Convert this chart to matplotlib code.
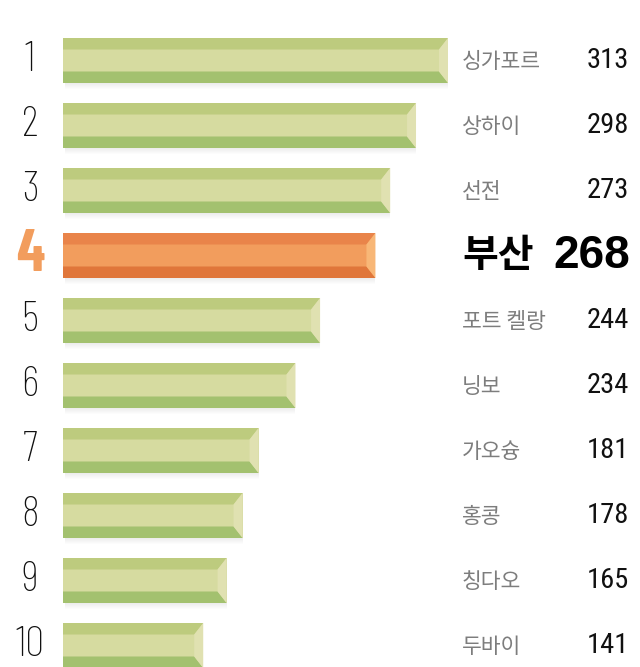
import matplotlib.pyplot as plt
from matplotlib.patches import Polygon, Rectangle

ranks = [1, 2, 3, 4, 5, 6, 7, 8, 9, 10]
cities = ['싱가포르', '상하이', '선전', '부산', '포트 켈랑', '닝보', '가오슝', '홍콩', '칭다오', '두바이']
values = [313, 298, 273, 268, 244, 234, 181, 178, 165, 141]
# drawn bar lengths (not exactly proportional to values)
bar_len = [313, 287, 266, 254, 209, 189, 159, 146, 133, 114]
highlight = 3

green = {'top': '#BDCB7E', 'mid': '#D6DBA0', 'bot': '#A3C16F', 'end': '#E0E1B1'}
orange = {'top': '#E9844A', 'mid': '#F29D5D', 'bot': '#E0763A', 'end': '#F8B777'}

W, H = 640, 667
px = 385 / 313          # pixels per value unit
x0_px = 63              # left edge of bars
row_px = 65             # distance between bars
y1_px = 60.5            # centre of first bar

fig = plt.figure(figsize=(W / 100, H / 100), dpi=100)
ax = fig.add_axes([0, 0, 1, 1])
ax.set_xlim(-x0_px / px, (W - x0_px) / px)
ax.set_ylim(1 + (H - y1_px) / row_px, 1 - y1_px / row_px)
ax.axis('off')

bh = 45 / row_px         # bar height in rank units
dv = 11.5 / row_px       # bevel depth, vertical
dh = 9 / px              # bevel depth, horizontal


def draw_bar(r, length, c):
    top, bot = r - bh / 2, r + bh / 2
    # soft shadow
    for k in range(6):
        ax.add_patch(Rectangle((2 / px, bot + k / row_px), length - 2 / px, 1 / row_px,
                               color='#000000', alpha=0.07 * (1 - k / 6), lw=0))
    ax.add_patch(Rectangle((0, top), length, bh, color=c['mid'], lw=0))
    ax.add_patch(Polygon([(0, top), (length, top), (length - dh, top + dv), (0, top + dv)],
                         color=c['top'], lw=0))
    ax.add_patch(Polygon([(0, bot), (length, bot), (length - dh, bot - dv), (0, bot - dv)],
                         color=c['bot'], lw=0))
    ax.add_patch(Polygon([(length, top), (length, bot), (length - dh, bot - dv),
                          (length - dh, top + dv)], color=c['end'], lw=0))


rank_font = ['Barlow Condensed', 'DejaVu Sans']
val_font = ['Roboto Condensed', 'Barlow Semi Condensed', 'DejaVu Sans']
big_font = ['Liberation Sans', 'DejaVu Sans']
kr_font = ['Noto Sans CJK KR', 'DejaVu Sans']
x_rank = -33 / px
x_city = (462 - x0_px) / px
x_val = (629 - x0_px) / px

for i, r in enumerate(ranks):
    if i == highlight:
        draw_bar(r, bar_len[i], orange)
        ax.text(x_rank, r, str(r), ha='center', va='center', fontsize=42,
                fontweight='bold', color='#F29D5D', family=rank_font)
        ax.text(x_city, r, cities[i], ha='left', va='center', fontsize=28,
                fontweight='black', color='#000000', family=kr_font)
        ax.text(x_val + 1 / px, r, str(values[i]), ha='right', va='center', fontsize=33,
                fontweight='bold', color='#000000', family=big_font)
    else:
        draw_bar(r, bar_len[i], green)
        ax.text(x_rank, r, str(r), ha='center', va='center', fontsize=31,
                fontweight=250, color='#111111', family=rank_font)
        ax.text(x_city, r + 0.03, cities[i], ha='left', va='center', fontsize=15.5,
                color='#7D7D7D', family=kr_font)
        ax.text(x_val, r, str(values[i]), ha='right', va='center', fontsize=20.5,
                fontweight=400, color='#111111', family=val_font)

fig.savefig('out.png', dpi=100)
